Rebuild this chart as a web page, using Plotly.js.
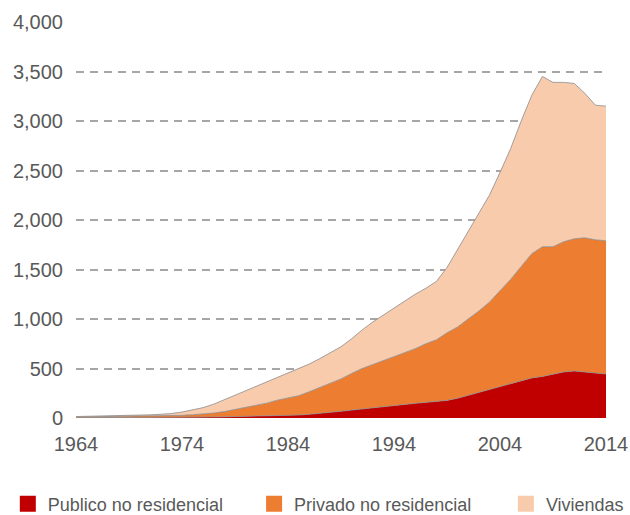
<!DOCTYPE html>
<html>
<head>
<meta charset="utf-8">
<script src="https://cdn.plot.ly/plotly-3.0.1.min.js"></script>
<style>html,body{margin:0;padding:0;background:#fff;}#chart{width:630px;height:515px;}</style>
</head>
<body>
<div id="chart"></div>
<script>
var years = [];
for (var y = 1964; y <= 2014; y++) years.push(y);

var publico = [3,3,4,4,4,5,5,5,6,6,7,8,9,10,12,14,16,18,20,22,25,30,37,45,55,68,80,90,100,112,125,137,148,158,168,178,200,230,260,290,320,350,380,405,420,440,465,475,465,455,445];
var privado = [7,8,8,9,10,10,11,12,13,16,20,25,31,40,53,71,89,107,130,158,175,195,228,265,300,327,370,410,440,468,495,523,552,592,622,682,720,770,820,880,960,1050,1150,1255,1310,1290,1315,1335,1355,1345,1345];
var viviendas = [5,6,6,7,8,10,12,15,19,23,33,47,65,90,120,145,165,190,210,230,250,270,280,290,305,325,350,390,430,460,490,520,550,560,590,660,780,890,980,1080,1200,1320,1470,1600,1720,1660,1610,1570,1460,1360,1360];

var seriesNames = ['Publico no residencial', 'Privado no residencial', 'Viviendas'];
var seriesColors = ['#C00000', '#ED7D31', '#F8CBAD'];
var seriesValues = [publico, privado, viviendas];
var xTickVals = [1964, 1974, 1984, 1994, 2004, 2014];
var yTickVals = [0, 500, 1000, 1500, 2000, 2500, 3000, 3500, 4000];

var traces = [];
seriesValues.forEach(function (vals, i) {
  traces.push({
    x: years, y: vals, type: 'scatter', mode: 'lines', stackgroup: 'one',
    fillcolor: seriesColors[i],
    line: {color: 'rgba(140,140,140,0.8)', width: 1},
    showlegend: false, hoverinfo: 'skip'
  });
});
var legendIds = ['legend', 'legend2', 'legend3'];
seriesNames.forEach(function (name, i) {
  traces.push({
    x: [null], y: [null], type: 'scatter', mode: 'markers', name: name,
    marker: {symbol: 'square', size: 18, color: seriesColors[i]},
    showlegend: true, legend: legendIds[i]
  });
});

function leg(x) {
  return {
    orientation: 'h', xref: 'container', yref: 'container',
    x: x, xanchor: 'left', y: 0.0215, yanchor: 'middle',
    font: {family: 'Liberation Sans, Arial, sans-serif', size: 18, color: '#595959'},
    bgcolor: 'rgba(0,0,0,0)', borderwidth: 0
  };
}

var layout = {
  width: 630, height: 515,
  margin: {l: 76, r: 24, t: 22, b: 97},
  paper_bgcolor: '#fff', plot_bgcolor: '#fff',
  font: {family: 'Liberation Sans, Arial, sans-serif', size: 20, color: '#595959'},
  xaxis: {
    range: [1964, 2014], tickvals: xTickVals, ticktext: xTickVals.map(String),
    showgrid: false, zeroline: false, showline: false, ticks: '',
    ticklabelstandoff: 12, fixedrange: true
  },
  yaxis: {
    range: [0, 4000], tickvals: yTickVals, tickformat: ',',
    showgrid: true, gridcolor: '#A6A6A6', gridwidth: 2, griddash: '8px,6px',
    zeroline: false, showline: false, ticks: '',
    ticklabelstandoff: 12, fixedrange: true
  },
  legend: leg(0.0124),
  legend2: leg(0.4033),
  legend3: leg(0.803),
  hovermode: false
};

Plotly.newPlot('chart', traces, layout, {displayModeBar: false, staticPlot: true});
</script>
</body>
</html>
